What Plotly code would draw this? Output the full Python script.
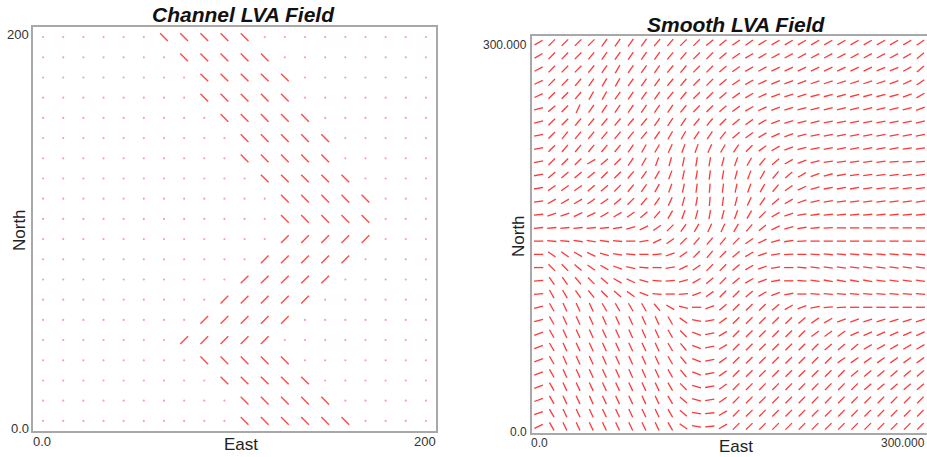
import math
import plotly.graph_objects as go

# ---------------- data ----------------
# Channel LVA field: rows from north (top) to south, 20 x 20 cells over 0..200
# '.' = isotropic (dot), 'b' = NW-SE orientation (-45 deg), 'f' = SW-NE orientation (+45 deg)
channel_extent = 200.0
channel_map = [
    "......bbbbb.........",
    ".......bbbbb........",
    "........bbbbb.......",
    "........bbbbb.......",
    ".........bbbbb......",
    "..........bbbbb.....",
    "..........bbbbb.....",
    "...........bbbbb....",
    "............bbbbb...",
    "............bbbbb...",
    "............fffff...",
    "...........fffff....",
    "..........fffff.....",
    ".........fffff......",
    "........fffff.......",
    ".......fffff........",
    "........bbbbb.......",
    ".........bbbbb......",
    "..........bbbbb.....",
    "..........bbbbbb....",
]
channel_codes = {"b": -45.0, "f": 45.0}

# Smooth LVA field: angle (deg from East, counter-clockwise), rows north -> south, 30 x 30 cells over 0..300
smooth_extent = 300.0
smooth_angles = [
    [30,45,45,45,45,55,55,55,55,50,50,45,45,40,40,35,35,30,30,30,30,30,30,30,30,30,30,30,30,35],
    [30,45,45,45,50,55,55,55,55,55,50,50,45,45,40,35,30,30,28,28,28,28,28,28,28,28,28,28,30,40],
    [28,45,45,45,50,55,60,55,55,55,50,50,45,45,40,35,30,28,25,25,25,25,25,25,25,25,22,22,28,40],
    [25,45,45,50,55,60,60,55,55,55,50,50,45,45,40,35,30,25,22,20,20,18,18,18,18,18,18,20,25,35],
    [25,45,45,50,60,60,55,55,55,55,50,50,45,45,40,35,30,25,20,18,18,15,15,15,15,15,15,15,20,30],
    [15,40,45,65,55,55,55,55,55,55,55,50,45,45,40,35,30,25,20,18,15,15,15,15,15,15,15,15,15,20],
    [15,45,45,50,50,50,50,50,50,55,55,55,50,50,45,40,35,30,20,18,15,15,12,12,12,12,12,12,12,15],
    [12,45,50,50,50,50,50,50,50,55,60,60,55,55,50,40,35,30,25,20,15,12,12,12,12,10,10,10,10,10],
    [10,45,50,50,50,50,50,55,60,60,65,70,70,65,60,55,45,35,30,20,15,10,10,10,10,10,10,10,8,8],
    [10,45,45,45,30,40,45,55,60,70,75,78,80,80,75,70,60,50,40,30,20,15,8,8,8,8,8,5,5,5],
    [10,40,40,40,40,45,45,50,55,60,70,78,80,82,80,75,70,60,50,40,30,20,15,10,8,8,8,8,8,8],
    [10,35,35,35,40,40,45,50,55,60,70,78,82,85,82,78,70,60,50,35,25,15,10,10,10,8,8,8,8,8],
    [8,30,30,30,35,35,40,45,50,55,65,75,80,85,82,75,65,55,40,30,20,12,10,8,8,8,8,8,8,8],
    [5,20,20,25,25,30,30,35,40,50,60,70,75,80,75,70,60,45,30,20,10,8,5,5,5,5,5,5,5,5],
    [5,5,5,5,5,5,8,15,25,35,45,55,60,65,65,60,50,40,25,15,8,5,3,0,0,0,0,0,0,0],
    [0,-5,-5,-8,-10,-8,-5,0,10,25,35,45,50,50,50,45,35,25,15,8,3,0,0,0,0,0,0,0,0,0],
    [0,-35,-35,-30,-25,-15,-10,-5,0,5,20,35,45,50,45,40,30,20,10,3,0,-3,-5,-5,-5,-5,-5,-5,-5,-5],
    [0,-45,-45,-40,-35,-30,-20,-12,-5,0,10,25,35,45,45,40,30,20,10,0,-5,-8,-8,-8,-8,-8,-8,-8,-8,-8],
    [5,-55,-55,-50,-45,-40,-30,-25,-15,-5,5,15,30,40,45,40,30,20,10,0,-5,-8,-10,-10,-10,-10,-8,-8,-8,-8],
    [5,-60,-60,-55,-50,-45,-40,-35,-20,-5,0,5,20,35,45,45,40,30,20,10,0,-5,-5,-5,-5,-5,-5,-5,-5,-5],
    [15,-60,-65,-65,-65,-60,-60,-60,-60,-50,-30,-15,0,20,40,45,45,45,40,30,20,10,5,3,0,0,0,0,0,0],
    [15,-60,-65,-65,-65,-65,-65,-65,-65,-65,-60,-35,-10,10,35,45,45,45,45,45,40,35,30,20,20,18,18,18,18,18],
    [20,-60,-65,-65,-65,-65,-65,-65,-65,-65,-60,-45,-20,10,30,45,45,45,45,45,45,35,35,35,25,25,25,25,25,25],
    [20,-60,-65,-65,-65,-65,-65,-65,-65,-65,-60,-50,-20,10,30,45,45,45,45,45,45,45,40,40,40,30,30,30,30,30],
    [20,-60,-65,-65,-65,-65,-65,-65,-65,-65,-60,-50,-20,10,35,45,45,45,45,45,45,45,45,35,35,35,35,35,35,35],
    [20,-60,-65,-65,-65,-65,-65,-65,-65,-65,-60,-50,-20,10,35,45,45,45,45,45,45,45,45,45,40,40,40,40,40,40],
    [20,-60,-65,-65,-65,-65,-65,-65,-65,-65,-60,-45,-15,10,35,45,45,45,45,45,45,45,45,45,45,40,40,40,40,40],
    [20,-60,-65,-65,-65,-65,-65,-65,-65,-65,-60,-40,-15,10,35,45,45,45,45,45,45,45,45,45,45,45,45,45,45,45],
    [20,-60,-65,-65,-65,-65,-65,-65,-65,-65,-60,-40,-10,5,30,45,45,45,45,45,45,45,45,45,45,45,45,45,45,45],
    [25,-60,-65,-65,-65,-65,-65,-65,-65,-65,-60,-35,-10,5,30,45,45,45,45,45,45,45,45,45,45,45,45,45,45,45],
]

left_tick_text = {"x0": "0.0", "x1": "200", "y0": "0.0", "y1": "200"}
right_tick_text = {"x0": "0.0", "x1": "300.000", "y0": "0.0", "y1": "300.000"}

# ---------------- layout geometry ----------------
W, H = 927, 457


def px(x):
    return x / W


def py(y):
    return (H - y) / H


L_DOM_X = [px(33), px(436)]
L_DOM_Y = [py(431), py(27)]
R_DOM_X = [px(532), 1.0]
R_DOM_Y = [py(433), py(36)]

# ---------------- build segments ----------------
seg_color_l = "#ff4a4a"
seg_color_r = "#ff3838"
dot_color = "#ffa0a0"

n_rows = len(channel_map)
n_cols = len(channel_map[0])
cw = channel_extent / n_cols
ch = channel_extent / n_rows
half_l = 0.27 * cw  # half-length along the segment (data units)

lx, ly, dx_, dy_ = [], [], [], []
for r, row in enumerate(channel_map):
    yc = channel_extent - (r + 0.5) * ch
    for c, code in enumerate(row):
        xc = (c + 0.5) * cw
        if code in channel_codes:
            a = math.radians(channel_codes[code])
            ddx, ddy = half_l * math.cos(a), half_l * math.sin(a)
            lx += [xc - ddx, xc + ddx, None]
            ly += [yc - ddy, yc + ddy, None]
        else:
            dx_.append(xc)
            dy_.append(yc)

sr = len(smooth_angles)
sc = len(smooth_angles[0])
scw = smooth_extent / sc
sch = smooth_extent / sr
half_r = 0.35 * scw

rx, ry = [], []
for r, row in enumerate(smooth_angles):
    yc = smooth_extent - (r + 0.5) * sch
    for c, ang in enumerate(row):
        xc = (c + 0.5) * scw
        a = math.radians(ang)
        ddx, ddy = half_r * math.cos(a), half_r * math.sin(a)
        rx += [xc - ddx, xc + ddx, None]
        ry += [yc - ddy, yc + ddy, None]

fig = go.Figure()
fig.add_trace(go.Scatter(x=dx_, y=dy_, mode="markers", xaxis="x", yaxis="y",
                         marker=dict(size=2.2, color=dot_color, line=dict(width=0)),
                         hoverinfo="skip", showlegend=False))
fig.add_trace(go.Scatter(x=lx, y=ly, mode="lines", xaxis="x", yaxis="y",
                         line=dict(color=seg_color_l, width=1.4),
                         hoverinfo="skip", showlegend=False))
fig.add_trace(go.Scatter(x=rx, y=ry, mode="lines", xaxis="x2", yaxis="y2",
                         line=dict(color=seg_color_r, width=1.3),
                         hoverinfo="skip", showlegend=False))

axis_common = dict(showgrid=False, zeroline=False, showticklabels=False, ticks="",
                   showline=True, linecolor="#a8a8a8", linewidth=1.5,
                   fixedrange=True)

fig.update_layout(
    width=W, height=H,
    margin=dict(l=0, r=0, t=0, b=0),
    paper_bgcolor="white", plot_bgcolor="white",
    xaxis=dict(domain=L_DOM_X, range=[0, channel_extent], anchor="y", mirror=True, **axis_common),
    yaxis=dict(domain=L_DOM_Y, range=[0, channel_extent], anchor="x", mirror=True, **axis_common),
    xaxis2=dict(domain=R_DOM_X, range=[0, smooth_extent], anchor="y2", mirror=True, **axis_common),
    yaxis2=dict(domain=R_DOM_Y, range=[0, smooth_extent], anchor="x2", mirror=False, **axis_common),
    showlegend=False,
)

title_font = dict(family="Liberation Sans, Arial, sans-serif", size=21, color="#111111")
axis_font = dict(family="Liberation Sans, Arial, sans-serif", size=17, color="#222222")
tick_font_l = dict(family="Liberation Sans, Arial, sans-serif", size=13, color="#333333")
tick_font_r = dict(family="Liberation Sans, Arial, sans-serif", size=12, color="#333333")

ann = []


def add(text, x, y, font, xanchor="center", yanchor="middle", angle=0):
    ann.append(dict(text=text, x=x, y=y, xref="paper", yref="paper", showarrow=False,
                    xanchor=xanchor, yanchor=yanchor, font=font, textangle=angle,
                    borderpad=0))


add("<b><i>Channel LVA Field</i></b>", px(243), py(15), title_font)
add("<b><i>Smooth LVA Field</i></b>", px(736), py(25), title_font)
add("East", px(241), py(444), axis_font)
add("East", px(736), py(446), axis_font)
add("North", px(20), py(230), axis_font, angle=-90)
add("North", px(518), py(236), axis_font, angle=-90)

add(left_tick_text["y1"], px(30), py(35), tick_font_l, xanchor="right")
add(left_tick_text["y0"], px(30), py(428), tick_font_l, xanchor="right")
add(left_tick_text["x0"], px(32), py(441), tick_font_l, xanchor="left")
add(left_tick_text["x1"], px(437), py(441), tick_font_l, xanchor="right")

add(right_tick_text["y1"], px(528), py(45), tick_font_r, xanchor="right")
add(right_tick_text["y0"], px(528), py(432), tick_font_r, xanchor="right")
add(right_tick_text["x0"], px(530), py(443), tick_font_r, xanchor="left")
add(right_tick_text["x1"], px(926), py(443), tick_font_r, xanchor="right")

fig.update_layout(annotations=ann)

fig.write_html("out.html")
